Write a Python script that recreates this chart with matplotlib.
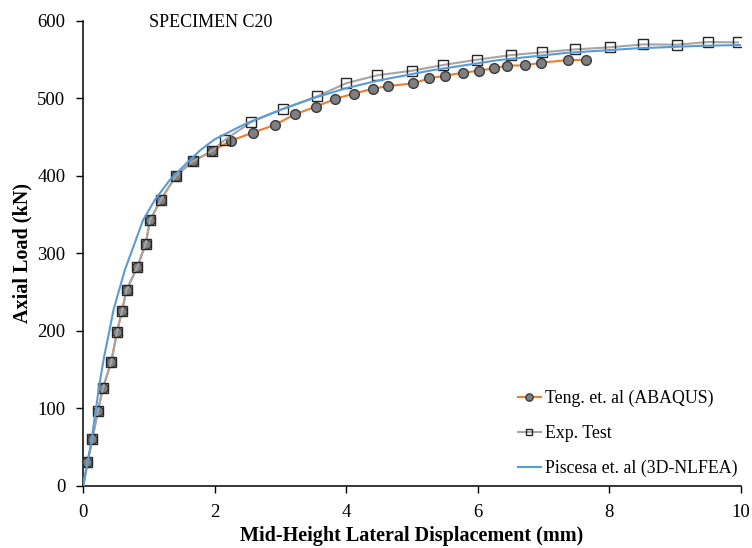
import matplotlib
matplotlib.use("Agg")
import matplotlib.pyplot as plt

# Teng et al. (ABAQUS) numerical curve
teng_x = [0.0, 0.06, 0.137, 0.222, 0.300, 0.424, 0.514, 0.590, 0.657, 0.824, 0.949, 1.015,
          1.18, 1.407, 1.664, 1.955, 2.247, 2.577, 2.92, 3.216, 3.54, 3.833, 4.12,
          4.41, 4.64, 5.02, 5.26, 5.50, 5.776, 6.02, 6.247, 6.44, 6.72, 6.958,
          7.38, 7.65]
teng_y = [0, 30, 60, 96.7, 126.6, 159.4, 198.9, 226, 252.5, 282.6, 312.4, 342.7,
          369, 399.6, 418.5, 431.7, 445.2, 455.5, 465.8, 479.2, 489.2, 499.2, 506,
          512.3, 515.7, 519.2, 525.6, 529, 532.9, 535.5, 538.6, 542, 542.4, 545.8,
          549.3, 549.3]

# Experimental test
exp_x = [0.0, 0.06, 0.137, 0.222, 0.300, 0.424, 0.514, 0.590, 0.657, 0.824, 0.949, 1.015,
         1.18, 1.407, 1.664, 1.955, 2.15, 2.55, 3.03, 3.56, 4.0, 4.47, 5.0, 5.47,
         5.99, 6.51, 6.98, 7.48, 8.01, 8.52, 9.03, 9.50, 9.96]
exp_y = [0, 30, 60, 96.7, 126.6, 159.4, 198.9, 226, 252.5, 282.6, 312.4, 342.7,
         369, 399.6, 418.5, 431.7, 446, 469, 486, 502.6, 519.4, 529.5, 535.5, 542.8,
         549.7, 555.7, 559.2, 563, 565.7, 569.5, 569, 572.5, 572]

# Piscesa et al. (3D-NLFEA) curve
pis_x = [0.0, 0.11, 0.24, 0.315, 0.39, 0.46, 0.63, 0.76, 0.91, 1.09, 1.32, 1.57,
         1.78, 2.0, 2.49, 3.0, 3.5, 4.0, 4.5, 5.3, 6.3, 7.35, 8.4, 9.4, 10.0]
pis_y = [0, 50, 128, 166, 197, 227, 278, 308, 343, 369, 395, 416,
         433, 447, 468, 485, 500, 513, 523, 536, 549, 558.5, 564.3, 567.6, 568.6]

x_ticks = [0, 2, 4, 6, 8, 10]
y_ticks = [0, 100, 200, 300, 400, 500, 600]

plt.rcParams['font.family'] = ['Liberation Serif', 'DejaVu Serif']

fig = plt.figure(figsize=(7.52, 5.48), dpi=100)
ax = fig.add_axes([0.1108, 0.1137, 0.8742, 0.8485])

ax.plot(teng_x, teng_y, color='#ED7D31', lw=1.5, marker='o', ms=7,
        markerfacecolor='#7F7F7F', markeredgecolor='#3A3A3A', markeredgewidth=1.0,
        markevery=list(range(1, len(teng_x))), label='Teng. et. al (ABAQUS)', zorder=3)
ax.plot(exp_x, exp_y, color='#A5A5A5', lw=1.5, marker='s', ms=6.5,
        markerfacecolor='none', markeredgecolor='#262626', markeredgewidth=1.0,
        markevery=list(range(1, len(exp_x))), label='Exp. Test', zorder=4)
ax.plot(pis_x, pis_y, color='#5B9BD5', lw=1.5, label='Piscesa et. al (3D-NLFEA)', zorder=5)

ax.set_xlim(0, 10)
ax.set_ylim(0, 600)
ax.set_xticks(x_ticks)
ax.set_yticks(y_ticks)
ax.tick_params(axis='both', direction='out', length=5, width=1, labelsize=13.5, pad=8)
for side in ('top', 'right'):
    ax.spines[side].set_visible(False)
for side in ('left', 'bottom'):
    ax.spines[side].set_linewidth(1.1)

ax.set_xlabel('Mid-Height Lateral Displacement (mm)', fontsize=14.5, fontweight='bold', labelpad=4)
ax.set_ylabel('Axial Load (kN)', fontsize=14.5, fontweight='bold', labelpad=3)

ax.text(1.00, 598, 'SPECIMEN C20', fontsize=13, va='center', ha='left')

ax.legend(loc='lower right', bbox_to_anchor=(1.02, -0.016), frameon=False, fontsize=12.8,
          handlelength=1.3, handletextpad=0.25, labelspacing=1.0, markerscale=0.75)

fig.savefig('out.png', dpi=100)
